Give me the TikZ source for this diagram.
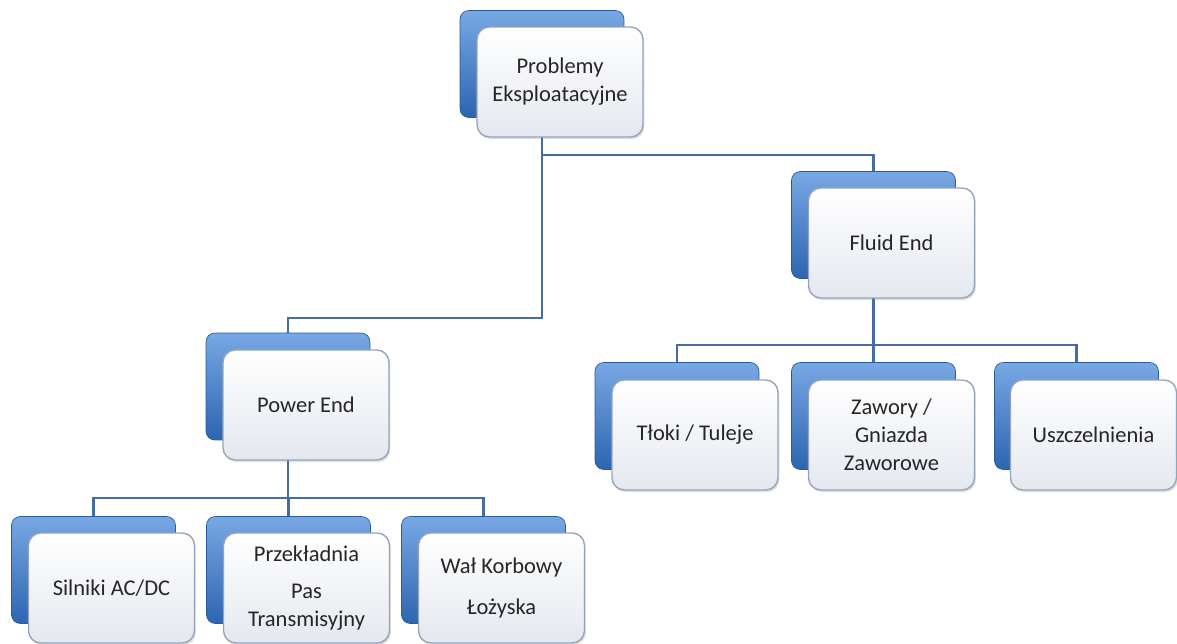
\documentclass[tikz,border=0pt]{standalone}
\usepackage{fontspec}
\setmainfont{Carlito}
\usetikzlibrary{backgrounds,shadows}
\definecolor{backblue}{RGB}{50,112,196}
\definecolor{backtop}{RGB}{120,168,228}
\definecolor{frontedge}{RGB}{150,164,186}
\definecolor{frontbot}{RGB}{228,232,239}
\definecolor{linkblue}{RGB}{70,108,165}

\begin{document}
\begin{tikzpicture}[x=0.02cm,y=-0.02cm]
		\tikzstyle{every node}+=[inner sep=0pt, align=center, text=black!85, font=\fontsize{12.8}{16}\selectfont]
		\tikzstyle{back}=[rounded corners=5pt, minimum width=3.28cm, minimum height=2.14cm, top color=backtop, middle color=backblue, bottom color=backblue!90!black, draw=backblue!80!black]
		\tikzstyle{front}=[rounded corners=7pt, minimum width=3.32cm, minimum height=2.2cm, top color=white, bottom color=frontbot, draw=frontedge, line width=0.8pt, drop shadow={opacity=0.25, shadow xshift=0.8pt, shadow yshift=-1.2pt}]
		\tikzstyle{link}=[draw=linkblue, line width=1.6pt]
		\useasboundingbox (0,0) rectangle (1177,644);
		% top
		\node [back] (problemyB) at (542,64) {};
		\node [front] (problemy) at (560,82) {Problemy\\Eksploatacyjne};
		% second level
		\node [back] (fluidB) at (873.5,225) {};
		\node [front] (fluid) at (891.5,243) {Fluid End};
		\node [back] (powerB) at (288,386.5) {};
		\node [front] (power) at (306,405) {Power End};
		% fluid end parts
		\node [back] (tlokiB) at (677,416) {};
		\node [front] (tloki) at (695,435) {Tłoki / Tuleje};
		\node [back] (zaworyB) at (873.5,416) {};
		\node [front] (zawory) at (891.5,435) {Zawory /\\Gniazda\\Zaworowe};
		\node [back] (uszczB) at (1076.5,416) {};
		\node [front] (uszcz) at (1093.5,435) {Uszczelnienia};
		% power end parts
		\node [back] (silnikiB) at (93.5,570) {};
		\node [front] (silniki) at (111.5,588) {Silniki AC/DC};
		\node [back] (przekladniaB) at (288.5,570) {};
		\node [front] (przekladnia) at (306.5,588) {Przekładnia\\[5pt]Pas\\Transmisyjny};
		\node [back] (walB) at (483.5,570) {};
		\node [front] (wal) at (501.5,588) {Wał Korbowy\\[7pt]Łożyska};
		% connectors
		\begin{scope}[on background layer]
		\draw [link] (problemyB.center) -- (problemyB.center |- 0,155) -| (fluidB.center);
		\draw [link] (problemyB.center) -- (problemyB.center |- 0,318) -| (powerB.center);
		\draw [link] (fluidB.center) -- (fluidB.center |- 0,345) -| (tlokiB.center);
		\draw [link] (fluidB.center) -- (zaworyB.center);
		\draw [link] (fluidB.center) -- (fluidB.center |- 0,345) -| (uszczB.center);
		\draw [link] (powerB.center) -- (powerB.center |- 0,498) -| (silnikiB.center);
		\draw [link] (powerB.center) -- (powerB.center |- 0,498) -| (przekladniaB.center);
		\draw [link] (powerB.center) -- (powerB.center |- 0,498) -| (walB.center);
		\end{scope}
	\end{tikzpicture}
\end{document}
